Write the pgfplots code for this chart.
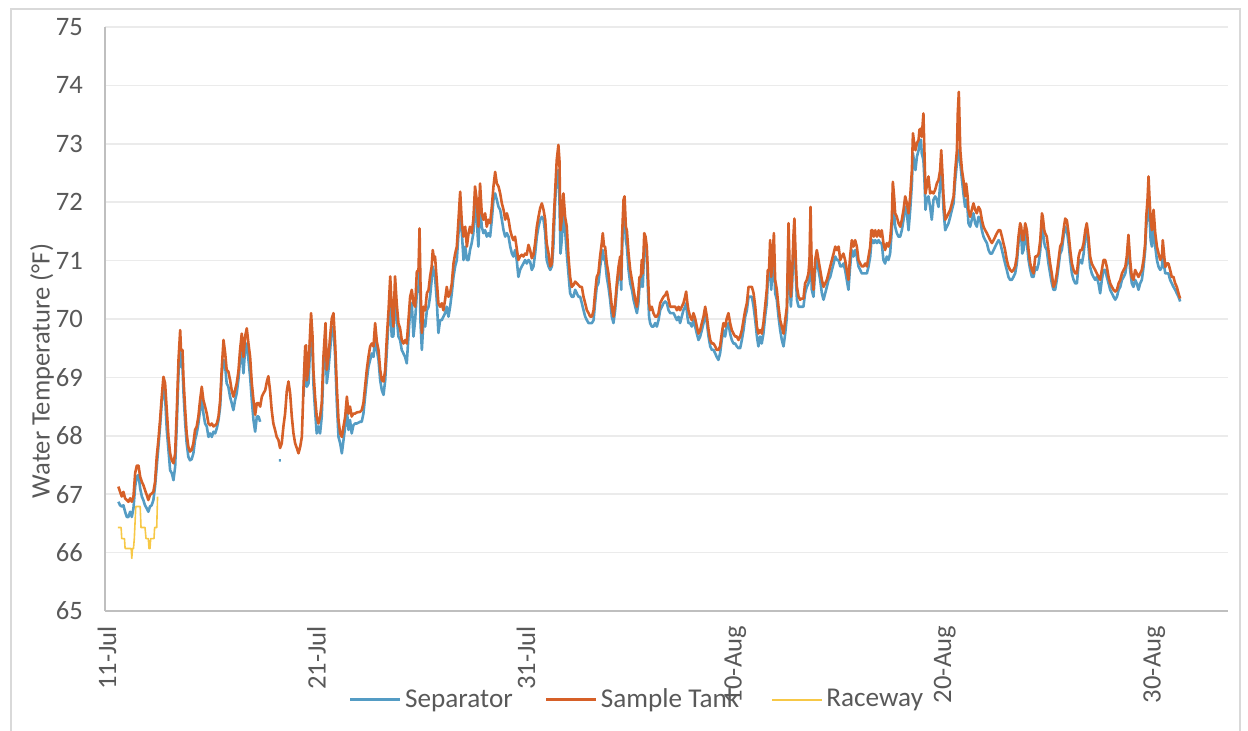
\documentclass[border=0pt]{standalone}
\usepackage{pgfplots}
\pgfplotsset{compat=1.18}
\usepackage{fontspec}
\setmainfont{Carlito}
\definecolor{sepblue}{RGB}{84,156,196}
\definecolor{tankorange}{RGB}{214,96,40}
\definecolor{raceyellow}{RGB}{247,200,70}
\definecolor{labelgray}{RGB}{89,89,89}
\definecolor{gridgray}{RGB}{235,235,235}
\definecolor{axisgray}{RGB}{191,191,191}
\definecolor{framegray}{RGB}{217,217,217}
\newcommand{\chartfont}{\fontsize{13.3}{16}\selectfont}

\begin{document}
\begin{tikzpicture}
\useasboundingbox (-52.5pt,-60pt) rectangle (571.5pt,305.5pt);
\draw[framegray,line width=0.6pt] (-47pt,-70pt) rectangle (567.5pt,301pt);
\begin{axis}[at={(0pt,0pt)},anchor=south west,scale only axis,
  width=561.5pt,height=292pt,
  xmin=-0.1,xmax=53.53,ymin=65,ymax=75,
  axis x line=bottom,axis y line=left,
  axis line style={-,axisgray,line width=0.75pt},
  major tick length=0pt,
  ytick={65,66,...,75},
  xtick={0,10,20,30,40,50},
  xticklabels={11-Jul,21-Jul,31-Jul,10-Aug,20-Aug,30-Aug},
  ymajorgrids,grid style={gridgray,line width=0.75pt},
  /pgf/number format/assume math mode=true,
  tick label style={font=\chartfont,text=labelgray},
  yticklabel style={xshift=-7.5pt},
  xticklabel style={rotate=90,anchor=east,xshift=-4pt},
  ylabel={Water Temperature (°F)},
  ylabel style={font=\chartfont,text=labelgray,at={(axis description cs:-0.0561,0.411)},anchor=center},
  unbounded coords=jump,
  legend columns=3,
  legend style={draw=none,fill=none,font=\fontsize{13.6}{16}\selectfont,text=labelgray,
    at={(0.4746,-0.152)},anchor=center,
    /tikz/every even column/.append style={column sep=14pt}},
  legend image post style={xscale=1.45},
]
% Separator
\addplot[sepblue,line width=1.3pt,line join=round] coordinates {
(0.54,66.87)(0.62,66.81)(0.70,66.79)(0.78,66.81)(0.86,66.70)(0.94,66.61)(1.02,66.61)(1.10,66.70)(1.18,66.61)(1.26,66.76)(1.34,67.13)(1.42,67.30)(1.50,67.33)(1.58,67.10)(1.66,66.96)(1.73,66.90)(1.81,66.81)(1.89,66.76)(1.97,66.70)(2.05,66.79)(2.13,66.81)(2.21,66.90)(2.29,67.13)(2.37,67.47)(2.45,67.81)(2.53,68.16)(2.61,68.56)(2.69,68.81)(2.77,68.67)(2.85,68.10)(2.93,67.76)(3.01,67.41)(3.09,67.36)(3.17,67.24)(3.25,67.47)(3.33,68.21)(3.41,69.07)(3.49,69.52)(3.53,69.18)(3.60,69.18)(3.65,68.73)(3.73,68.21)(3.80,67.87)(3.88,67.64)(3.96,67.58)(4.04,67.60)(4.12,67.70)(4.20,67.93)(4.28,68.04)(4.36,68.21)(4.44,68.44)(4.52,68.61)(4.60,68.38)(4.68,68.21)(4.76,68.16)(4.84,67.98)(4.92,68.04)(5.00,67.98)(5.08,68.07)(5.16,68.04)(5.24,68.13)(5.32,68.27)(5.40,68.50)(5.48,69.07)(5.56,69.30)(5.64,69.18)(5.71,68.90)(5.79,68.84)(5.87,68.67)(5.95,68.56)(6.03,68.44)(6.11,68.61)(6.19,68.73)(6.27,68.96)(6.35,69.30)(6.43,69.47)(6.51,69.07)(6.59,69.47)(6.67,69.58)(6.75,69.30)(6.83,69.01)(6.91,68.61)(6.99,68.27)(7.07,68.07)(7.15,68.33)(7.23,68.33)(7.31,68.24)
(7.35,nan)
(8.20,67.58)(8.30,67.58)
(8.35,nan)
(9.38,68.67)(9.46,69.35)(9.50,69.41)(9.54,68.84)(9.62,68.90)(9.70,69.58)(9.74,69.87)(9.81,69.47)(9.85,68.90)(9.93,68.44)(10.01,68.04)(10.09,68.16)(10.17,68.04)(10.25,68.33)(10.33,69.13)(10.43,69.70)(10.49,68.90)(10.57,69.13)(10.65,69.47)(10.73,69.81)(10.81,69.87)(10.89,69.35)(10.97,68.56)(11.05,67.98)(11.13,67.87)(11.21,67.70)(11.29,67.93)(11.37,68.16)(11.45,68.44)(11.53,68.10)(11.60,68.27)(11.68,68.04)(11.76,68.18)(11.84,68.21)(11.92,68.21)(12.08,68.24)(12.16,68.24)(12.24,68.38)(12.32,68.67)(12.40,68.95)(12.48,69.18)(12.56,69.30)(12.64,69.41)(12.72,69.35)(12.80,69.70)(12.88,69.47)(12.96,69.30)(13.04,68.95)(13.12,68.78)(13.20,68.70)(13.28,68.95)(13.36,69.47)(13.44,69.98)(13.52,70.38)(13.59,69.70)(13.67,69.70)(13.75,70.33)(13.83,70.04)(13.91,69.70)(13.99,69.64)(14.07,69.47)(14.15,69.41)(14.23,69.35)(14.31,69.24)(14.39,69.70)(14.47,70.15)(14.55,70.27)(14.63,69.70)
(14.71,69.98)(14.79,70.44)(14.87,70.55)(14.92,71.12)(14.96,69.98)(15.03,69.47)(15.11,69.98)(15.19,69.87)(15.27,70.15)(15.35,70.21)(15.42,70.38)(15.50,70.67)(15.55,70.90)(15.62,70.78)(15.66,70.72)(15.74,70.33)(15.82,69.76)(15.90,69.98)(15.98,69.98)(16.06,70.04)(16.14,70.10)(16.22,70.21)(16.30,70.04)(16.38,70.21)(16.46,70.44)(16.54,70.72)(16.62,70.90)(16.70,71.01)(16.78,71.47)(16.86,71.75)(16.94,71.47)(17.02,71.01)(17.10,71.24)(17.18,71.01)(17.26,71.01)(17.33,71.18)(17.41,71.30)(17.49,71.47)(17.57,71.98)(17.65,71.70)(17.73,71.24)(17.81,71.98)(17.89,71.58)(17.97,71.47)(18.05,71.52)(18.13,71.41)(18.21,71.47)(18.29,71.41)(18.37,71.70)(18.45,72.04)(18.53,72.15)(18.61,72.04)(18.69,71.92)(18.77,71.87)(18.85,71.70)(18.93,71.52)(19.01,71.41)(19.09,71.47)(19.17,71.41)(19.25,71.24)(19.33,71.12)(19.40,71.07)(19.48,71.18)(19.56,71.01)(19.64,70.72)(19.72,70.84)(19.80,70.90)(19.88,70.95)(19.96,71.01)(20.04,70.95)(20.12,71.01)(20.20,70.98)(20.28,70.84)(20.36,70.90)(20.44,71.12)(20.52,71.41)(20.60,71.58)(20.68,71.70)(20.76,71.75)(20.84,71.70)(20.92,71.47)(20.99,71.01)(21.08,70.90)(21.16,70.84)(21.24,70.90)(21.31,71.24)(21.39,71.98)(21.47,72.44)(21.55,72.55)(21.60,72.04)(21.65,71.12)(21.71,71.35)(21.79,71.81)(21.87,71.52)(21.95,71.12)(22.03,70.78)(22.11,70.44)(22.19,70.38)
(22.27,70.38)(22.35,70.50)(22.43,70.44)(22.51,70.38)(22.59,70.38)(22.67,70.27)(22.75,70.15)(22.83,70.04)(22.91,69.98)(22.99,69.93)(23.07,69.93)(23.15,69.93)(23.23,69.98)(23.30,70.27)(23.38,70.55)(23.46,70.61)(23.54,70.89)(23.62,71.07)(23.67,71.18)(23.73,71.01)(23.78,71.01)(23.86,70.72)(23.94,70.55)(24.02,70.33)(24.10,70.04)(24.18,69.93)(24.26,70.15)(24.34,70.50)(24.42,70.78)(24.50,70.89)(24.55,70.50)(24.59,71.18)(24.66,71.81)(24.71,71.87)(24.77,71.35)(24.82,71.24)(24.90,70.84)(24.98,70.61)(25.06,70.50)(25.14,70.33)(25.22,70.21)(25.30,70.10)(25.37,70.27)(25.42,70.55)(25.49,70.55)(25.53,70.78)(25.58,70.55)(25.65,71.24)(25.71,71.18)(25.77,71.07)(25.82,70.55)(25.88,70.04)(25.93,69.93)(26.01,69.87)(26.09,69.87)(26.17,69.93)(26.25,69.87)(26.33,69.98)(26.41,70.15)(26.49,70.21)(26.57,70.27)(26.65,70.30)(26.73,70.27)(26.81,70.15)(26.89,70.10)(26.97,70.10)(27.05,70.10)(27.13,70.04)(27.21,69.98)(27.29,70.04)(27.36,69.93)(27.44,70.04)(27.52,70.15)(27.60,70.21)(27.65,70.27)(27.71,70.04)(27.76,69.93)(27.84,69.93)(27.92,69.87)(28.00,69.98)(28.08,69.87)(28.16,69.75)(28.24,69.64)(28.32,69.70)(28.40,69.81)(28.48,69.93)(28.56,70.10)(28.64,69.93)(28.72,69.70)(28.80,69.53)(28.88,69.47)(28.96,69.47)(29.04,69.41)(29.11,69.35)(29.19,69.30)(29.27,69.41)(29.35,69.64)(29.43,69.81)
(29.51,69.70)(29.59,69.87)(29.67,69.93)(29.75,69.75)(29.83,69.64)(29.91,69.58)(29.99,69.58)(30.07,69.53)(30.15,69.50)(30.23,69.50)(30.31,69.64)(30.39,69.81)(30.47,70.04)(30.55,70.15)(30.63,70.38)(30.71,70.38)(30.79,70.38)(30.87,70.21)(30.95,69.98)(31.03,69.70)(31.10,69.53)(31.18,69.70)(31.26,69.58)(31.34,69.75)(31.42,70.04)(31.50,70.27)(31.55,70.67)(31.61,70.67)(31.66,71.07)(31.71,70.50)(31.77,70.78)(31.84,71.12)(31.90,70.44)(31.98,70.33)(32.06,70.04)(32.14,69.81)(32.22,69.64)(32.30,69.53)(32.38,69.75)(32.46,70.04)(32.54,71.24)(32.59,70.67)(32.65,70.21)(32.70,70.50)(32.78,71.24)(32.82,71.41)(32.89,70.72)(32.94,70.33)(33.02,70.21)(33.09,70.21)(33.17,70.21)(33.25,70.21)(33.33,70.44)(33.41,70.55)(33.49,70.61)(33.54,70.72)(33.59,71.35)(33.65,70.50)(33.73,70.38)(33.81,70.84)(33.89,71.01)(33.97,70.84)(34.05,70.67)(34.13,70.44)(34.21,70.33)(34.29,70.44)(34.37,70.55)(34.45,70.67)(34.53,70.72)(34.61,70.84)(34.69,70.95)(34.77,71.07)(34.85,71.01)(34.93,71.01)(35.01,70.90)(35.08,70.90)(35.16,70.95)(35.24,70.84)(35.32,70.67)(35.40,70.50)(35.48,70.90)(35.56,71.18)(35.64,71.07)(35.72,71.18)(35.80,71.07)(35.88,70.90)(35.96,70.84)(36.04,70.78)(36.12,70.78)(36.20,70.78)(36.28,70.78)(36.36,70.90)(36.44,71.07)(36.49,71.30)(36.55,71.35)(36.61,71.30)(36.68,71.35)(36.76,71.30)(36.84,71.35)
(36.92,71.30)(36.99,71.30)(37.07,71.01)(37.15,70.95)(37.23,71.07)(37.31,71.01)(37.39,71.12)(37.47,71.52)(37.52,72.10)(37.58,71.81)(37.63,71.58)(37.71,71.47)(37.79,71.41)(37.87,71.41)(37.95,71.52)(38.03,71.70)(38.11,71.92)(38.19,71.81)(38.27,71.52)(38.35,71.87)(38.43,72.32)(38.48,72.84)(38.54,72.67)(38.60,72.55)(38.67,72.78)(38.75,72.89)(38.79,73.01)(38.86,73.07)(38.90,72.84)(38.98,72.72)(39.03,72.38)(39.08,71.87)(39.14,72.04)(39.22,72.10)(39.30,71.92)(39.38,71.70)(39.46,72.04)(39.54,72.10)(39.62,72.04)(39.70,71.92)(39.78,72.32)(39.83,72.61)(39.88,72.38)(39.94,71.87)(40.02,71.52)(40.10,71.58)(40.18,71.64)(40.26,71.75)(40.34,71.87)(40.42,71.98)(40.50,72.38)(40.58,72.67)(40.62,72.84)(40.67,72.89)(40.74,72.67)(40.82,72.38)(40.89,72.15)(40.97,71.92)(41.02,72.04)(41.09,71.87)(41.13,71.64)(41.21,71.58)(41.29,71.70)(41.37,71.81)(41.45,71.64)(41.53,71.58)(41.61,71.75)(41.69,71.70)(41.77,71.52)(41.85,71.41)(41.93,71.35)(42.01,71.30)(42.09,71.18)(42.17,71.12)(42.25,71.12)(42.33,71.18)(42.41,71.24)(42.49,71.30)(42.57,71.35)(42.65,71.30)(42.73,71.18)(42.80,71.07)(42.88,70.95)(42.96,70.84)(43.04,70.72)(43.12,70.67)(43.20,70.67)(43.28,70.72)(43.36,70.78)(43.44,70.95)(43.52,71.30)(43.60,71.47)(43.65,71.41)(43.70,71.12)(43.76,71.18)(43.84,71.47)(43.92,71.30)(44.00,71.01)(44.08,70.84)(44.16,70.72)(44.24,70.72)
(44.32,70.89)(44.40,70.84)(44.48,70.95)(44.56,71.18)(44.64,71.64)(44.68,71.52)(44.75,71.30)(44.79,71.24)(44.87,71.18)(44.95,70.95)(45.03,70.78)(45.11,70.61)(45.19,70.50)(45.27,70.50)(45.35,70.67)(45.43,70.89)(45.51,71.12)(45.59,71.18)(45.67,71.41)(45.75,71.58)(45.83,71.52)(45.91,71.30)(45.99,71.01)(46.07,70.78)(46.15,70.67)(46.23,70.61)(46.31,70.61)(46.39,70.95)(46.47,71.01)(46.55,70.95)(46.63,71.12)(46.71,71.41)(46.78,71.52)(46.86,71.24)(46.94,70.89)(47.02,70.78)(47.10,70.72)(47.18,70.67)(47.26,70.72)(47.34,70.61)(47.42,70.44)(47.50,70.67)(47.58,70.84)(47.66,70.84)(47.74,70.72)(47.82,70.61)(47.90,70.50)(47.98,70.44)(48.06,70.38)(48.14,70.33)(48.22,70.38)(48.30,70.50)(48.38,70.55)(48.46,70.67)(48.54,70.72)(48.62,70.78)(48.69,70.95)(48.77,71.30)(48.85,70.84)(48.93,70.61)(49.01,70.55)(49.09,70.67)(49.17,70.61)(49.25,70.50)(49.33,70.61)(49.41,70.67)(49.49,70.89)(49.57,71.18)(49.62,71.58)(49.68,71.81)(49.73,72.09)(49.78,71.75)(49.83,71.35)(49.89,71.24)(49.97,71.58)(50.05,71.24)(50.13,71.01)(50.21,70.89)(50.29,70.84)(50.37,70.89)(50.41,71.18)(50.48,70.89)(50.53,70.78)(50.60,70.78)(50.68,70.78)(50.76,70.67)(50.84,70.61)(50.92,70.55)(51.00,70.50)(51.08,70.44)(51.16,70.38)(51.24,70.30)
};
\addlegendentry{Separator}
% Sample Tank
\addplot[tankorange,line width=1.3pt,line join=round] coordinates {
(0.54,67.13)(0.62,67.04)(0.70,66.96)(0.78,67.04)(0.86,66.93)(0.94,66.90)(1.02,66.87)(1.10,66.93)(1.18,66.87)(1.26,66.96)(1.34,67.36)(1.42,67.49)(1.50,67.49)(1.58,67.30)(1.66,67.21)(1.73,67.16)(1.81,67.07)(1.89,66.99)(1.97,66.90)(2.05,66.99)(2.13,67.01)(2.21,67.04)(2.29,67.21)(2.37,67.64)(2.45,67.93)(2.53,68.27)(2.61,68.67)(2.69,69.01)(2.77,68.90)(2.85,68.44)(2.93,67.98)(3.01,67.70)(3.09,67.58)(3.17,67.53)(3.25,67.70)(3.33,68.44)(3.41,69.30)(3.49,69.81)(3.53,69.47)(3.60,69.47)(3.65,68.96)(3.73,68.44)(3.80,68.04)(3.88,67.81)(3.96,67.73)(4.04,67.76)(4.12,67.87)(4.20,68.10)(4.28,68.16)(4.36,68.33)(4.44,68.61)(4.52,68.84)(4.60,68.61)(4.68,68.50)(4.76,68.38)(4.84,68.21)(4.92,68.18)(5.00,68.21)(5.08,68.16)(5.16,68.18)(5.24,68.21)(5.32,68.33)(5.40,68.61)(5.48,69.18)(5.56,69.64)(5.64,69.41)(5.71,69.13)(5.79,69.10)(5.87,68.96)(5.95,68.78)(6.03,68.67)(6.11,68.78)(6.19,68.90)(6.27,69.10)(6.35,69.47)(6.43,69.75)(6.51,69.35)(6.59,69.70)(6.67,69.84)(6.75,69.58)(6.83,69.35)(6.91,68.90)(6.99,68.61)(7.07,68.36)(7.15,68.56)(7.23,68.56)(7.31,68.50)(7.39,68.67)(7.47,68.73)
(7.55,68.78)(7.63,68.93)(7.70,69.02)(7.78,68.78)(7.86,68.44)(7.94,68.21)(8.02,68.10)(8.10,67.98)(8.18,67.93)(8.26,67.79)(8.34,67.87)(8.42,68.16)(8.50,68.38)(8.58,68.76)(8.66,68.93)(8.74,68.73)(8.82,68.33)(8.90,68.04)(8.98,67.87)(9.06,67.79)(9.14,67.70)(9.22,67.81)(9.30,67.98)(9.38,68.84)(9.46,69.53)(9.50,69.55)(9.54,68.95)(9.62,69.18)(9.70,69.81)(9.74,70.10)(9.81,69.70)(9.85,69.13)(9.93,68.67)(10.01,68.33)(10.09,68.21)(10.17,68.33)(10.25,68.56)(10.33,69.35)(10.43,69.93)(10.49,69.13)(10.57,69.35)(10.65,69.70)(10.73,70.01)(10.81,70.10)(10.89,69.58)(10.97,68.84)(11.05,68.27)(11.13,68.04)(11.21,67.98)(11.29,68.16)(11.37,68.33)(11.45,68.67)(11.53,68.38)(11.60,68.50)(11.68,68.33)(11.76,68.38)(11.84,68.38)(11.92,68.40)(12.08,68.41)(12.16,68.44)(12.24,68.56)(12.32,68.84)(12.40,69.13)(12.48,69.35)(12.56,69.53)(12.64,69.58)(12.72,69.53)(12.80,69.93)(12.88,69.61)(12.96,69.47)(13.04,69.13)(13.12,68.95)(13.20,68.93)(13.28,69.13)(13.36,69.70)(13.44,70.15)(13.52,70.73)(13.59,70.21)(13.67,69.87)(13.75,70.73)(13.83,70.27)(13.91,69.93)(13.99,69.84)(14.07,69.64)(14.15,69.58)(14.23,69.64)(14.31,69.58)(14.39,69.98)(14.47,70.38)(14.55,70.50)(14.63,70.27)
(14.71,70.21)(14.79,70.81)(14.87,70.84)(14.92,71.55)(14.96,70.67)(15.03,69.76)(15.11,70.21)(15.19,70.15)(15.27,70.44)(15.35,70.50)(15.42,70.72)(15.50,70.90)(15.55,71.18)(15.62,71.01)(15.66,71.07)(15.74,70.67)(15.82,70.27)(15.90,70.21)(15.98,70.27)(16.06,70.15)(16.14,70.33)(16.22,70.55)(16.30,70.38)(16.38,70.44)(16.46,70.61)(16.54,70.95)(16.62,71.12)(16.70,71.24)(16.78,71.70)(16.86,72.18)(16.94,71.64)(17.02,71.41)(17.10,71.58)(17.18,71.24)(17.26,71.47)(17.33,71.58)(17.41,71.47)(17.49,71.70)(17.57,72.27)(17.65,72.04)(17.73,71.58)(17.81,72.32)(17.89,71.81)(17.97,71.70)(18.05,71.81)(18.13,71.58)(18.21,71.70)(18.29,71.64)(18.37,71.92)(18.45,72.27)(18.53,72.52)(18.61,72.32)(18.69,72.27)(18.77,72.15)(18.85,71.98)(18.93,71.87)(19.01,71.70)(19.09,71.81)(19.17,71.70)(19.25,71.52)(19.33,71.41)(19.40,71.35)(19.48,71.41)(19.56,71.21)(19.64,71.01)(19.72,71.07)(19.80,71.10)(19.88,71.07)(19.96,71.12)(20.04,71.10)(20.12,71.27)(20.20,71.18)(20.28,71.04)(20.36,71.10)(20.44,71.30)(20.52,71.58)(20.60,71.75)(20.68,71.90)(20.76,71.98)(20.84,71.87)(20.92,71.70)(20.99,71.30)(21.08,71.12)(21.16,70.90)(21.24,70.95)(21.31,71.58)(21.39,72.15)(21.47,72.72)(21.55,72.98)(21.60,72.72)(21.65,71.52)(21.71,71.70)(21.79,72.15)(21.87,71.75)(21.95,71.58)(22.03,71.07)(22.11,70.72)(22.19,70.55)
(22.27,70.58)(22.35,70.64)(22.43,70.61)(22.51,70.58)(22.59,70.55)(22.67,70.55)(22.75,70.38)(22.83,70.27)(22.91,70.15)(22.99,70.10)(23.07,70.04)(23.15,70.04)(23.23,70.15)(23.30,70.44)(23.38,70.72)(23.46,70.78)(23.54,71.07)(23.62,71.30)(23.67,71.47)(23.73,71.24)(23.78,71.24)(23.86,70.95)(23.94,70.78)(24.02,70.50)(24.10,70.21)(24.18,70.04)(24.26,70.27)(24.34,70.61)(24.42,70.89)(24.50,71.07)(24.55,70.67)(24.59,71.41)(24.66,72.04)(24.71,72.10)(24.77,71.58)(24.82,71.52)(24.90,71.12)(24.98,70.84)(25.06,70.67)(25.14,70.50)(25.22,70.33)(25.30,70.21)(25.37,70.44)(25.42,70.72)(25.49,70.72)(25.53,71.01)(25.58,70.78)(25.65,71.47)(25.71,71.41)(25.77,71.24)(25.82,70.84)(25.88,70.27)(25.93,70.15)(26.01,70.21)(26.09,70.10)(26.17,70.04)(26.25,70.04)(26.33,70.10)(26.41,70.27)(26.49,70.33)(26.57,70.38)(26.65,70.41)(26.73,70.47)(26.81,70.33)(26.89,70.21)(26.97,70.21)(27.05,70.21)(27.13,70.21)(27.21,70.15)(27.29,70.21)(27.36,70.15)(27.44,70.21)(27.52,70.27)(27.60,70.38)(27.65,70.47)(27.71,70.27)(27.76,70.15)(27.84,70.04)(27.92,69.98)(28.00,70.10)(28.08,70.01)(28.16,69.87)(28.24,69.75)(28.32,69.81)(28.40,69.93)(28.48,70.04)(28.56,70.21)(28.64,70.04)(28.72,69.81)(28.80,69.64)(28.88,69.58)(28.96,69.58)(29.04,69.53)(29.11,69.47)(29.19,69.47)(29.27,69.53)(29.35,69.75)(29.43,69.93)
(29.51,69.87)(29.59,70.01)(29.67,70.10)(29.75,69.93)(29.83,69.81)(29.91,69.75)(29.99,69.70)(30.07,69.70)(30.15,69.64)(30.23,69.70)(30.31,69.81)(30.39,69.98)(30.47,70.15)(30.55,70.27)(30.63,70.55)(30.71,70.55)(30.79,70.55)(30.87,70.44)(30.95,70.21)(31.03,69.87)(31.10,69.75)(31.18,69.81)(31.26,69.75)(31.34,69.93)(31.42,70.21)(31.50,70.50)(31.55,70.84)(31.61,70.84)(31.66,71.35)(31.71,70.72)(31.77,71.01)(31.84,71.47)(31.90,70.67)(31.98,70.50)(32.06,70.21)(32.14,69.98)(32.22,69.87)(32.30,69.75)(32.38,69.98)(32.46,70.21)(32.54,71.64)(32.59,70.90)(32.65,70.38)(32.70,70.67)(32.78,71.47)(32.82,71.72)(32.89,70.95)(32.94,70.55)(33.02,70.38)(33.09,70.33)(33.17,70.35)(33.25,70.35)(33.33,70.61)(33.41,70.67)(33.49,70.78)(33.54,71.01)(33.59,71.92)(33.65,70.78)(33.73,70.50)(33.81,71.01)(33.89,71.18)(33.97,71.01)(34.05,70.84)(34.13,70.67)(34.21,70.55)(34.29,70.61)(34.37,70.67)(34.45,70.78)(34.53,70.90)(34.61,71.01)(34.69,71.12)(34.77,71.24)(34.85,71.18)(34.93,71.24)(35.01,71.01)(35.08,71.07)(35.16,71.12)(35.24,71.01)(35.32,70.84)(35.40,70.67)(35.48,71.07)(35.56,71.35)(35.64,71.24)(35.72,71.35)(35.80,71.24)(35.88,71.01)(35.96,70.95)(36.04,70.90)(36.12,70.90)(36.20,70.95)(36.28,70.90)(36.36,71.07)(36.44,71.24)(36.49,71.52)(36.55,71.52)(36.61,71.41)(36.68,71.52)(36.76,71.41)(36.84,71.52)
(36.92,71.41)(36.99,71.52)(37.07,71.30)(37.15,71.18)(37.23,71.30)(37.31,71.24)(37.39,71.35)(37.47,71.70)(37.52,72.35)(37.58,72.10)(37.63,71.81)(37.71,71.75)(37.79,71.64)(37.87,71.58)(37.95,71.70)(38.03,71.87)(38.11,72.10)(38.19,71.98)(38.27,71.81)(38.35,72.10)(38.43,72.55)(38.48,73.18)(38.54,73.01)(38.60,72.89)(38.67,73.01)(38.75,73.07)(38.79,73.24)(38.86,73.26)(38.90,73.12)(38.98,73.52)(39.03,72.84)(39.08,72.15)(39.14,72.27)(39.22,72.44)(39.30,72.15)(39.38,72.18)(39.46,72.15)(39.54,72.21)(39.62,72.32)(39.70,72.38)(39.78,72.55)(39.83,72.89)(39.88,72.55)(39.94,72.10)(40.02,71.70)(40.10,71.75)(40.18,71.81)(40.26,71.87)(40.34,71.98)(40.42,72.10)(40.50,72.55)(40.58,72.89)(40.62,73.52)(40.67,73.89)(40.74,72.89)(40.82,72.55)(40.89,72.38)(40.97,72.10)(41.02,72.32)(41.09,72.10)(41.13,71.87)(41.21,71.75)(41.29,71.87)(41.37,71.98)(41.45,71.87)(41.53,71.81)(41.61,71.92)(41.69,71.87)(41.77,71.70)(41.85,71.58)(41.93,71.52)(42.01,71.47)(42.09,71.41)(42.17,71.35)(42.25,71.30)(42.33,71.35)(42.41,71.41)(42.49,71.47)(42.57,71.52)(42.65,71.52)(42.73,71.41)(42.80,71.30)(42.88,71.18)(42.96,71.01)(43.04,70.90)(43.12,70.84)(43.20,70.81)(43.28,70.84)(43.36,70.90)(43.44,71.07)(43.52,71.41)(43.60,71.64)(43.65,71.58)(43.70,71.35)(43.76,71.35)(43.84,71.64)(43.92,71.52)(44.00,71.18)(44.08,70.95)(44.16,70.84)(44.24,70.78)
(44.32,71.07)(44.40,71.07)(44.48,71.12)(44.56,71.35)(44.64,71.81)(44.68,71.75)(44.75,71.52)(44.79,71.47)(44.87,71.41)(44.95,71.18)(45.03,70.95)(45.11,70.78)(45.19,70.55)(45.27,70.61)(45.35,70.78)(45.43,71.01)(45.51,71.24)(45.59,71.30)(45.67,71.52)(45.75,71.72)(45.83,71.69)(45.91,71.47)(45.99,71.18)(46.07,70.95)(46.15,70.84)(46.23,70.78)(46.31,70.78)(46.39,71.07)(46.47,71.18)(46.55,71.18)(46.63,71.30)(46.71,71.52)(46.78,71.64)(46.86,71.41)(46.94,71.07)(47.02,70.95)(47.10,70.89)(47.18,70.84)(47.26,70.78)(47.34,70.72)(47.42,70.67)(47.50,70.84)(47.58,71.01)(47.66,71.01)(47.74,70.89)(47.82,70.72)(47.90,70.61)(47.98,70.55)(48.06,70.50)(48.14,70.47)(48.22,70.50)(48.30,70.61)(48.38,70.67)(48.46,70.78)(48.54,70.84)(48.62,70.89)(48.69,71.07)(48.77,71.44)(48.85,71.01)(48.93,70.72)(49.01,70.67)(49.09,70.84)(49.17,70.78)(49.25,70.72)(49.33,70.78)(49.41,70.84)(49.49,71.01)(49.57,71.30)(49.62,71.75)(49.68,72.04)(49.73,72.44)(49.78,72.04)(49.83,71.69)(49.89,71.52)(49.97,71.87)(50.05,71.47)(50.13,71.24)(50.21,71.12)(50.29,71.01)(50.37,71.07)(50.41,71.35)(50.48,71.07)(50.53,70.89)(50.60,70.95)(50.68,70.95)(50.76,70.84)(50.84,70.72)(50.92,70.72)(51.00,70.61)(51.08,70.55)(51.16,70.44)(51.24,70.35)
};
\addlegendentry{Sample Tank}
% Raceway
\addplot[raceyellow,line width=0.8pt,line join=round] coordinates {
(0.51,66.43)(0.67,66.43)(0.70,66.24)(0.83,66.24)(0.86,66.07)(1.15,66.07)(1.18,65.90)(1.21,66.07)(1.26,66.07)(1.30,66.24)(1.37,66.79)(1.58,66.79)(1.62,66.43)(1.81,66.43)(1.86,66.24)(1.97,66.24)(2.00,66.07)(2.05,66.07)(2.08,66.24)(2.24,66.24)(2.27,66.43)(2.37,66.43)(2.41,66.96)
};
\addlegendentry{Raceway}
\end{axis}
\end{tikzpicture}
\end{document}
